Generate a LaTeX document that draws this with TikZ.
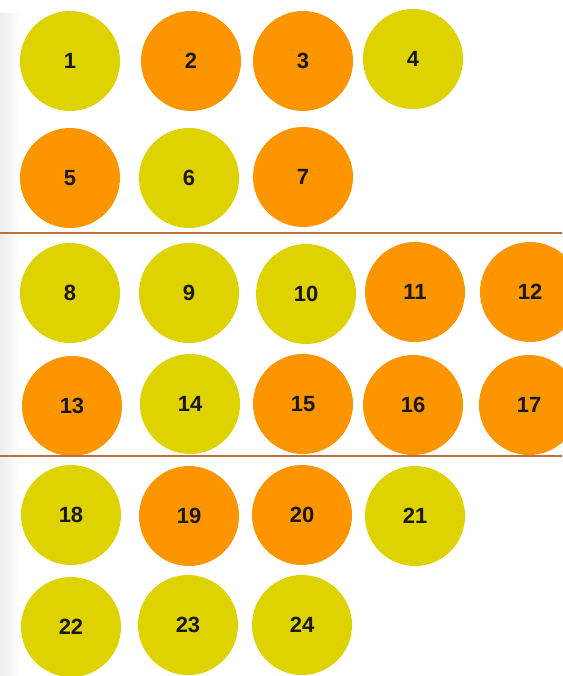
\documentclass[tikz,border=0pt]{standalone}
\usepackage{fontspec}
\setmainfont{Liberation Sans}
\definecolor{ylw}{HTML}{DED200}
\definecolor{org}{HTML}{FC9500}
\definecolor{sep}{HTML}{BC6F3E}
\begin{document}
\begin{tikzpicture}[x=1pt,y=-1pt,
  ball/.style={circle,minimum size=100pt,inner sep=0pt,font=\fontsize{22}{22}\selectfont\bfseries,text=black!90},
  yb/.style={ball,fill=ylw},
  ob/.style={ball,fill=org},
  sepline/.style={draw=sep,line width=2pt}]
\useasboundingbox (0,0) rectangle (562,676);
\fill[white] (0,0) rectangle (562,676);
\shade[left color=black!7,right color=white] (0,14) rectangle (20,676);
% row 1
\node[yb] (n1) at (70,61) {1};
\node[ob] (n2) at (191,61) {2};
\node[ob] (n3) at (303,61) {3};
\node[yb] (n4) at (413,59) {4};
% row 2
\node[ob] (n5) at (70,178) {5};
\node[yb] (n6) at (189,178) {6};
\node[ob] (n7) at (303,177) {7};
% separator
\coordinate (s1a) at (0,232.5);
\coordinate (s1b) at (562,232.5);
\draw[sepline] (s1a) -- (s1b);
% row 3
\node[yb] (n8) at (70,293) {8};
\node[yb] (n9) at (189,293) {9};
\node[yb] (n10) at (306,294) {10};
\node[ob] (n11) at (415,292) {11};
\node[ob] (n12) at (530,292) {12};
% row 4
\node[ob] (n13) at (72,406) {13};
\node[yb] (n14) at (190,404) {14};
\node[ob] (n15) at (303,404) {15};
\node[ob] (n16) at (413,405) {16};
\node[ob] (n17) at (529,405) {17};
% separator
\coordinate (s2a) at (0,456);
\coordinate (s2b) at (562,456);
\draw[sepline] (s2a) -- (s2b);
% row 5
\node[yb] (n18) at (71,515) {18};
\node[ob] (n19) at (189,516) {19};
\node[ob] (n20) at (302,515) {20};
\node[yb] (n21) at (415,516) {21};
% row 6
\node[yb] (n22) at (71,627) {22};
\node[yb] (n23) at (188,625) {23};
\node[yb] (n24) at (302,625) {24};
\end{tikzpicture}
\end{document}
